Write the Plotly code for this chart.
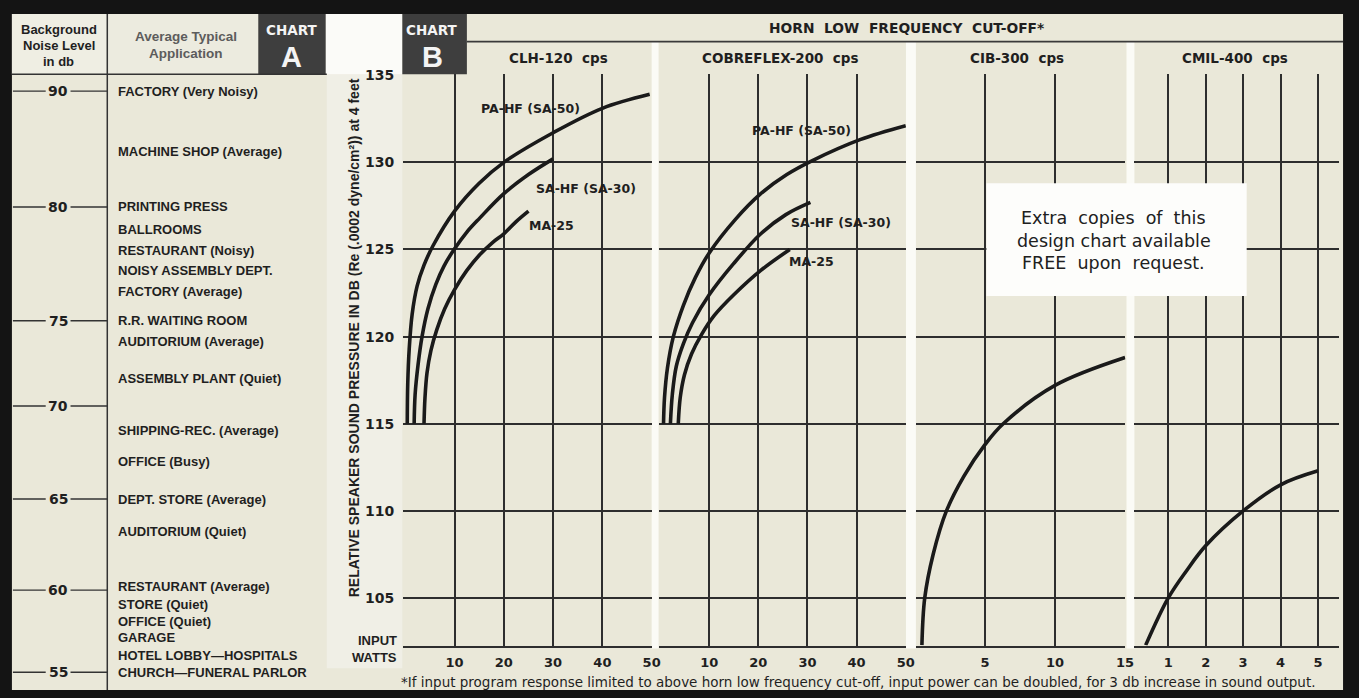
import numpy as np
import plotly.graph_objects as go

# ---------------- data ----------------
spl_ticks = [105, 110, 115, 120, 125, 130, 135]

noise_ticks = [90, 80, 75, 70, 65, 60, 55]
# sound-pressure level (chart B scale) opposite each background-noise tick
noise_tick_spl = [134.04, 127.40, 120.88, 116.00, 110.67, 105.45, 100.75]

applications = [
    "FACTORY (Very Noisy)", "MACHINE SHOP (Average)", "PRINTING PRESS", "BALLROOMS",
    "RESTAURANT (Noisy)", "NOISY ASSEMBLY DEPT.", "FACTORY (Average)", "R.R. WAITING ROOM",
    "AUDITORIUM (Average)", "ASSEMBLY PLANT (Quiet)", "SHIPPING-REC. (Average)", "OFFICE (Busy)",
    "DEPT. STORE (Average)", "AUDITORIUM (Quiet)", "RESTAURANT (Average)", "STORE (Quiet)",
    "OFFICE (Quiet)", "GARAGE", "HOTEL LOBBY\u2014HOSPITALS", "CHURCH\u2014FUNERAL PARLOR",
]
application_noise = [90, 84.8, 80, 79, 78.1, 77.2, 76.3, 75, 73.8, 71.6, 68.7, 67.0,
                     65, 63.2, 60.2, 59.1, 58.1, 57.1, 56.0, 55]

horn_titles = ["CLH-120  cps", "COBREFLEX-200  cps", "CIB-300  cps", "CMIL-400  cps"]
watt_ticks_clh = [10, 20, 30, 40, 50]
watt_ticks_cobreflex = [10, 20, 30, 40, 50]
watt_ticks_cib = [5, 10, 15]
watt_ticks_cmil = [1, 2, 3, 4, 5]

clh_pahf_watts = [0.4, 0.5, 0.8, 1.4, 2.4, 3.8, 5.6, 10, 15, 20, 30, 40, 49.6]
clh_pahf_db = [115, 117.3, 119.3, 121.3, 122.9, 124.1, 125.2, 127.2, 128.8, 130.0, 131.7, 133.1, 133.9]
clh_sahf_watts = [1.8, 2.0, 2.6, 3.4, 4.6, 6.2, 7.85, 9.9, 12.5, 15.1, 20, 25, 30]
clh_sahf_db = [115, 116.7, 118.4, 120.0, 121.6, 123.0, 124.05, 125.0, 126.0, 126.8, 128.2, 129.3, 130.2]
clh_ma25_watts = [3.8, 4.0, 4.4, 5.2, 6.4, 8.0, 10, 12.5, 15.1, 17.7, 20, 22.5, 25]
clh_ma25_db = [115, 116.5, 117.9, 119.2, 120.4, 121.6, 122.7, 123.8, 124.7, 125.4, 125.9, 126.6, 127.2]

cob_pahf_watts = [0.7, 0.9, 1.5, 2.7, 4.75, 7.2, 10, 15.25, 20.5, 25.8, 31, 40.7, 50]
cob_pahf_db = [115, 116.5, 118.2, 120.0, 121.8, 123.4, 124.8, 126.7, 128.2, 129.3, 130.1, 131.3, 132.1]
cob_sahf_watts = [2.1, 2.5, 3.3, 4.75, 6.6, 10, 15, 20.5, 25.6, 30.6]
cob_sahf_db = [115, 116.7, 118.3, 119.6, 120.8, 122.4, 124.2, 125.9, 127.0, 127.7]
cob_ma25_watts = [3.7, 4.1, 4.95, 6.4, 8.4, 11, 15, 20.5, 26.4]
cob_ma25_db = [115, 116.5, 117.8, 119.0, 120.1, 121.2, 122.4, 123.8, 125.0]

cib_watts = [0.5, 0.7, 1.3, 2.25, 3.5, 5, 6.3, 10, 15]
cib_db = [102.3, 105, 107.5, 110, 112.0, 113.8, 115, 117.2, 118.8]

cmil_watts = [0.4, 1.0, 1.5, 2.0, 3.0, 4.0, 5.0]
cmil_db = [102.3, 105, 106.6, 108.0, 110, 111.5, 112.3]

curve_names = ["PA-HF (SA-50)", "SA-HF (SA-30)", "MA-25"]

# ---------------- layout helpers ----------------
W, H = 1359, 698
def px(x):
    return x / W
def py(y):
    return 1 - y / H

F = "Liberation Sans, Arial, sans-serif"
FW = "DejaVu Sans, Verdana, sans-serif"
INK = "#1f1f1f"
GRID = "#2e2e2e"
PAPER = "#eae8d9"

fig = go.Figure()

# chart B curves
panels = [
    ("x", [(clh_pahf_watts, clh_pahf_db), (clh_sahf_watts, clh_sahf_db), (clh_ma25_watts, clh_ma25_db)]),
    ("x2", [(cob_pahf_watts, cob_pahf_db), (cob_sahf_watts, cob_sahf_db), (cob_ma25_watts, cob_ma25_db)]),
    ("x3", [(cib_watts, cib_db)]),
    ("x4", [(cmil_watts, cmil_db)]),
]
for xa, curves in panels:
    for wx, dy in curves:
        fig.add_trace(go.Scatter(x=wx, y=dy, xaxis=xa, yaxis="y", mode="lines",
                                 line=dict(color="#1a1a1a", width=3.6, shape="spline", smoothing=1.0),
                                 hoverinfo="skip", showlegend=False, cliponaxis=False))

# chart A: noise-level tick marks (left table)
tx, ty = [], []
for s in noise_tick_spl:
    tx += [13, 46, None, 71, 108, None]
    ty += [s, s, None, s, s, None]
fig.add_trace(go.Scatter(x=tx, y=ty, xaxis="x5", yaxis="y2", mode="lines",
                         line=dict(color="#333", width=1.4), hoverinfo="skip", showlegend=False))

# ---------------- axes ----------------
y_bottom_px, y_top_px = 645, 68
spl_per_px = 30 / (597 - 68)
y_min = 135 - (y_bottom_px - y_top_px) * spl_per_px

xtickfont = dict(family=FW, size=13, color=INK, weight="bold")
ytickfont = dict(family=FW, size=14, color=INK, weight="bold")
common_x = dict(showgrid=True, gridcolor=GRID, gridwidth=1.8, zeroline=False,
                showline=True, linecolor=GRID, linewidth=1.8, ticks="", anchor="y",
                tickfont=xtickfont, ticklabelstandoff=4, fixedrange=True)

fig.update_layout(
    xaxis=dict(domain=[px(406), px(656)], range=[-0.4, 50.0], tickvals=watt_ticks_clh, **common_x),
    xaxis2=dict(domain=[px(663), px(912)], range=[-0.3, 50.05], tickvals=watt_ticks_cobreflex, **common_x),
    xaxis3=dict(domain=[px(922), px(1133)], range=[0.07, 15.03], tickvals=watt_ticks_cib, **common_x),
    xaxis4=dict(domain=[px(1142), px(1348)], range=[0.1, 5.56], tickvals=watt_ticks_cmil, **common_x),
    yaxis=dict(domain=[py(y_bottom_px), py(y_top_px)], range=[y_min, 135.05], tickvals=spl_ticks,
               showgrid=True, gridcolor=GRID, gridwidth=1.8, zeroline=False, showline=False,
               ticks="", anchor="x", side="left", tickfont=ytickfont, ticklabelstandoff=8,
               fixedrange=True),
    xaxis5=dict(domain=[0, px(330)], range=[0, 330], visible=False, anchor="y2", fixedrange=True),
    yaxis2=dict(domain=[py(690), py(68)], range=[135 - (690 - 68) * spl_per_px, 135],
                visible=False, anchor="x5", fixedrange=True),
)

# ---------------- shapes ----------------
def rect(x0, y0, x1, y1, fill, layer="below"):
    return dict(type="rect", xref="paper", yref="paper", x0=px(x0), x1=px(x1), y0=py(y1), y1=py(y0),
                fillcolor=fill, line=dict(width=0), layer=layer)

def line(x0, y0, x1, y1, color="#333", width=1.5):
    return dict(type="line", xref="paper", yref="paper", x0=px(x0), x1=px(x1), y0=py(y0), y1=py(y1),
                line=dict(color=color, width=width), layer="below")

shapes = [
    rect(12, 7, 1352, 690, PAPER),
    rect(12, 7, 108, 68, "#efeee3"),
    rect(109, 7, 260, 68, "#ecebdf"),
    rect(329, 68, 405, 668, "#f0efe6"),
    rect(260, 7, 328, 68, "#3e3e3e"),
    rect(328, 7, 405, 68, "#fbfbf8"),
    rect(405, 7, 470, 68, "#3e3e3e"),
    rect(656, 35, 663, 648, "#fbfbf6"),
    rect(912, 35, 922, 648, "#fbfbf6"),
    rect(1134, 35, 1142, 648, "#fbfbf6"),
    line(12, 68, 329, 68),
    line(108, 7, 108, 690),
    line(470, 35, 1352, 35, "#3a3a3a", 1.6),
    rect(993, 178, 1255, 292, "#fdfdfb", layer="above"),
]
fig.update_layout(shapes=shapes)

# ---------------- text ----------------
ann = []
def txt(x, y, text, size=12, color=INK, bold=True, xanchor="center", angle=0, family=F):
    ann.append(dict(xref="paper", yref="paper", x=px(x), y=py(y), text=text, showarrow=False,
                    xanchor=xanchor, yanchor="middle", textangle=angle,
                    font=dict(family=family, size=size, color=color, weight="bold" if bold else "normal")))

txt(59, 23, "Background", 13)
txt(59, 39, "Noise Level", 13)
txt(59, 55, "in db", 13)
txt(187, 30, "Average Typical", 13.5, color="#5c5c5c")
txt(187, 47, "Application", 13.5, color="#5c5c5c")
txt(293, 23, "CHART", 13.5, color="#f4f4f4", family=FW)
txt(293, 51, "A", 29, color="#f4f4f4")
txt(434, 23, "CHART", 13.5, color="#f4f4f4", family=FW)
txt(435, 51, "B", 29, color="#f4f4f4")
txt(913, 21, "HORN  LOW  FREQUENCY  CUT-OFF*", 13.8, family=FW)
for t, cx in zip(horn_titles, [562, 786, 1024, 1243]):
    txt(cx, 52, t, 13.5, family=FW)

txt(356, 334, "RELATIVE SPEAKER SOUND PRESSURE IN DB (Re (.0002 dyne/cm\u00b2)) at 4 feet",
    14, angle=-90)
txt(402, 640, "INPUT", 13, xanchor="right")
txt(402, 657, "WATTS", 13, xanchor="right")

txt(1121, 213, "Extra  copies  of  this", 17.5, bold=False, color="#202020", family=FW)
txt(1121, 236, "design chart available", 17.5, bold=False, color="#202020", family=FW)
txt(1121, 259, "FREE  upon  request.", 17.5, bold=False, color="#202020", family=FW)

txt(864, 682, "*If input program response limited to above horn low frequency cut-off, "
              "input power can be doubled, for 3 db increase in sound output.", 13.5, bold=False,
    family=FW)

# noise level labels and application list (chart A)
for n, s in zip(noise_ticks, noise_tick_spl):
    ann.append(dict(xref="x5", yref="y2", x=58.5, y=s, text=str(n), showarrow=False,
                    xanchor="center", yanchor="middle",
                    font=dict(family=FW, size=14, color=INK, weight="bold")))
app_spl = np.interp(application_noise, noise_ticks[::-1], noise_tick_spl[::-1])
for a, s in zip(applications, app_spl):
    ann.append(dict(xref="x5", yref="y2", x=117, y=float(s), text=a, showarrow=False,
                    xanchor="left", yanchor="middle",
                    font=dict(family=F, size=13, color=INK, weight="bold")))

# curve labels
curve_label_pos = [
    ("x", 25.5, 133.1, 0), ("x", 36.6, 128.5, 1), ("x", 29.6, 126.4, 2),
    ("x2", 28.8, 131.8, 0), ("x2", 36.9, 126.55, 1), ("x2", 30.8, 124.3, 2),
]
for xa, xv, yv, i in curve_label_pos:
    ann.append(dict(xref=xa, yref="y", x=xv, y=yv, text=curve_names[i], showarrow=False,
                    xanchor="center", yanchor="middle",
                    font=dict(family=FW, size=12.5, color=INK, weight="bold")))

fig.update_layout(
    annotations=ann,
    width=W, height=H,
    margin=dict(l=0, r=0, t=0, b=0),
    paper_bgcolor="#141414",
    plot_bgcolor="rgba(0,0,0,0)",
    showlegend=False,
    font=dict(family=F, color=INK),
)

fig.write_html(
    "out.html",
    config={"displayModeBar": False},
    post_script="document.documentElement.style.margin='0';document.body.style.margin='0';"
                "document.body.style.overflow='hidden';document.documentElement.style.overflow='hidden';",
)
